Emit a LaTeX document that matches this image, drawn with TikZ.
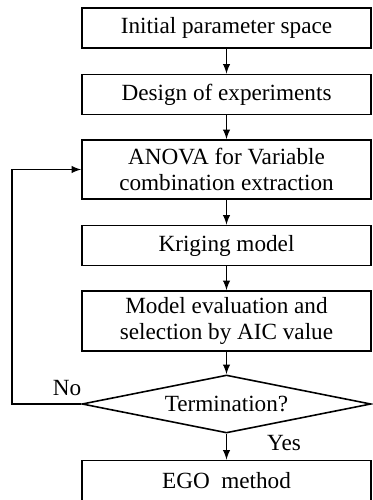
\documentclass[tikz,border=0pt]{standalone}
\usepackage{fontspec}
\setmainfont{Liberation Serif}
\usetikzlibrary{shapes.geometric}

\begin{document}
\begin{tikzpicture}[
        box/.style={draw, line width=0.9pt, minimum width=5.78cm, minimum height=0.8cm, align=center, inner sep=2pt},
        decision/.style={draw, line width=0.9pt, diamond, aspect=5, inner sep=0pt, minimum width=5.78cm, minimum height=1.16cm},
        every node/.style={font=\fontsize{13.2}{15}\selectfont},
        >=latex]
        \useasboundingbox (0,0) rectangle (7.46,-10);
        % process steps
        \node[box] (init)   at (4.53, -0.56) {Initial parameter space};
        \node[box] (doe)    at (4.53, -1.89) {Design of experiments};
        \node[box, minimum height=1.18cm] (anova)  at (4.53, -3.39) {ANOVA for Variable\\combination extraction};
        \node[box] (krig)   at (4.53, -4.91) {Kriging model};
        \node[box, minimum height=1.2cm] (aic) at (4.53, -6.42) {Model evaluation and\\selection by AIC value};
        \node[decision] (term)  at (4.53, -8.08) {Termination?};
        \node[box] (ego)    at (4.53, -9.61) {EGO\ \ method};
        % main flow
        \draw[->, line width=0.9pt] (init) -- (doe);
        \draw[->, line width=0.9pt] (doe) -- (anova);
        \draw[->, line width=0.9pt] (anova) -- (krig);
        \draw[->, line width=0.9pt] (krig) -- (aic);
        \draw[->, line width=0.9pt] (aic) -- (term);
        \draw[->, line width=0.9pt] (term) -- (ego);
        % loop back
        \coordinate (back) at (0.24, -8.08);
        \draw[->, line width=0.9pt] (term.west) -- (back) |- (anova.west);
        % branch labels
        \node (no)  at (1.34, -7.76) {No};
        \node (yes) at (5.68, -8.86) {Yes};
\end{tikzpicture}
\end{document}
